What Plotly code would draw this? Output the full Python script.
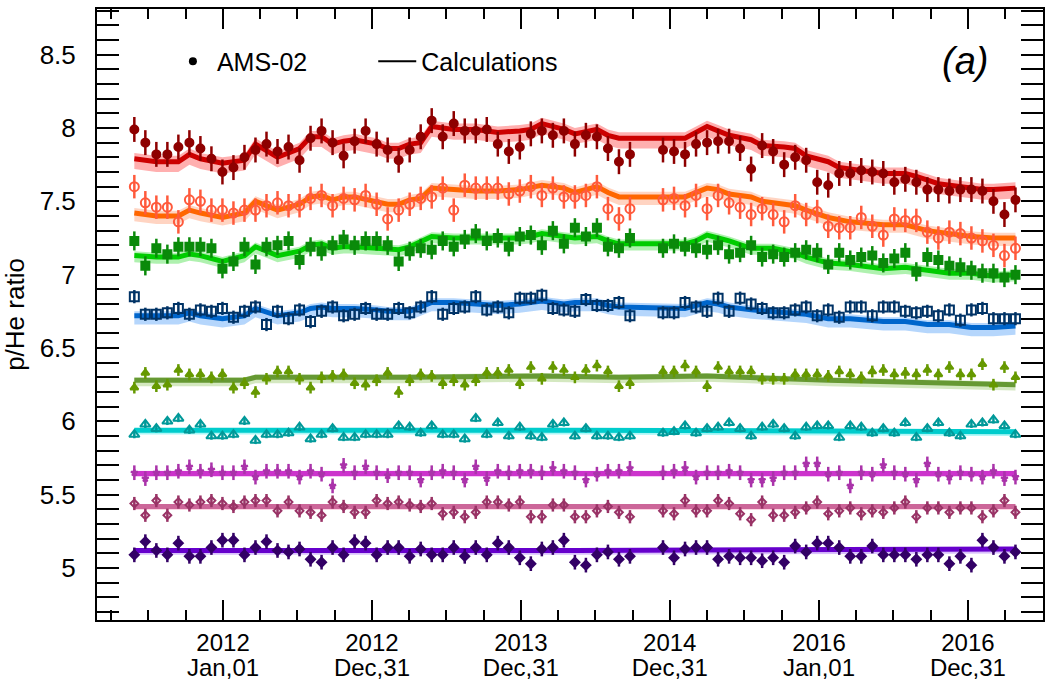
import pandas as pd
import plotly.graph_objects as go

# Bartels rotations with data (2472 and 2473 missing)
BARTELS = list(range(2426, 2472)) + list(range(2474, 2507))

RED = [7.99, 7.90, 7.82, 7.82, 7.87, 7.90, 7.86, 7.79, 7.70, 7.73, 7.80, 7.85, 7.89, 7.84, 7.87, 7.78,
       7.93, 7.98, 7.90, 7.81, 7.91, 7.98, 7.89, 7.85, 7.78, 7.85, 7.94, 8.05, 7.94, 8.03, 7.98, 7.98,
       7.99, 7.89, 7.84, 7.87, 7.96, 7.98, 7.95, 7.98, 7.89, 7.95, 7.94, 7.86, 7.77, 7.82,
       7.85, 7.84, 7.82, 7.89, 7.90, 7.91, 7.91, 7.86, 7.72, 7.88, 7.84, 7.75, 7.80, 7.78, 7.63, 7.61,
       7.69, 7.69, 7.71, 7.70, 7.69, 7.63, 7.65, 7.63, 7.58, 7.58, 7.57, 7.58, 7.58, 7.57, 7.50, 7.41, 7.51]
ORANGE = [7.60, 7.49, 7.46, 7.46, 7.36, 7.51, 7.50, 7.44, 7.44, 7.42, 7.44, 7.44, 7.47, 7.49, 7.47, 7.47,
          7.52, 7.54, 7.47, 7.52, 7.51, 7.54, 7.48, 7.38, 7.44, 7.48, 7.52, 7.53, 7.59, 7.44, 7.61, 7.59,
          7.59, 7.59, 7.55, 7.57, 7.60, 7.54, 7.59, 7.53, 7.53, 7.54, 7.60, 7.45, 7.38, 7.45,
          7.51, 7.52, 7.47, 7.54, 7.45, 7.54, 7.49, 7.46, 7.41, 7.45, 7.41, 7.36, 7.47, 7.41, 7.43, 7.33,
          7.32, 7.32, 7.39, 7.33, 7.27, 7.38, 7.37, 7.37, 7.29, 7.25, 7.29, 7.28, 7.25, 7.23, 7.20, 7.13, 7.18]
GREEN = [7.23, 7.06, 7.18, 7.14, 7.19, 7.19, 7.19, 7.18, 7.04, 7.09, 7.19, 7.07, 7.19, 7.20, 7.23, 7.10,
         7.19, 7.16, 7.20, 7.24, 7.20, 7.23, 7.23, 7.20, 7.09, 7.16, 7.18, 7.17, 7.23, 7.19, 7.24, 7.28,
         7.23, 7.25, 7.19, 7.26, 7.27, 7.20, 7.30, 7.21, 7.32, 7.26, 7.32, 7.19, 7.18, 7.25,
         7.18, 7.21, 7.19, 7.18, 7.17, 7.20, 7.14, 7.15, 7.20, 7.12, 7.14, 7.12, 7.15, 7.17, 7.15, 7.07,
         7.15, 7.10, 7.12, 7.13, 7.08, 7.11, 7.15, 7.02, 7.12, 7.10, 7.06, 7.05, 7.03, 7.01, 7.01, 6.98, 7.00]
BLUE = [6.85, 6.73, 6.73, 6.74, 6.77, 6.73, 6.76, 6.75, 6.77, 6.71, 6.75, 6.78, 6.66, 6.75, 6.70, 6.76,
        6.68, 6.75, 6.78, 6.72, 6.73, 6.77, 6.73, 6.73, 6.77, 6.74, 6.78, 6.85, 6.73, 6.77, 6.78, 6.85,
        6.76, 6.78, 6.74, 6.84, 6.84, 6.86, 6.77, 6.76, 6.75, 6.83, 6.79, 6.79, 6.81, 6.72,
        6.74, 6.74, 6.81, 6.78, 6.75, 6.84, 6.75, 6.84, 6.80, 6.77, 6.74, 6.74, 6.76, 6.78, 6.72, 6.76,
        6.71, 6.78, 6.78, 6.72, 6.78, 6.78, 6.75, 6.74, 6.75, 6.72, 6.76, 6.69, 6.76, 6.77, 6.70, 6.70, 6.70]
OLIVE = [6.23, 6.33, 6.24, 6.25, 6.35, 6.32, 6.32, 6.30, 6.32, 6.23, 6.26, 6.20, 6.29, 6.34, 6.34, 6.29,
         6.23, 6.30, 6.31, 6.32, 6.26, 6.25, 6.28, 6.33, 6.20, 6.28, 6.32, 6.31, 6.26, 6.28, 6.25, 6.28,
         6.33, 6.33, 6.35, 6.26, 6.37, 6.29, 6.37, 6.35, 6.30, 6.35, 6.38, 6.34, 6.24, 6.26,
         6.34, 6.34, 6.38, 6.34, 6.24, 6.37, 6.34, 6.34, 6.34, 6.29, 6.29, 6.29, 6.32, 6.32, 6.32, 6.31,
         6.34, 6.32, 6.30, 6.34, 6.35, 6.32, 6.33, 6.32, 6.35, 6.32, 6.37, 6.32, 6.32, 6.39, 6.25, 6.37, 6.30]
TEAL = [5.91, 5.98, 5.95, 6.00, 6.02, 5.94, 5.98, 5.90, 5.90, 5.91, 6.00, 5.87, 5.91, 5.91, 5.92, 5.96,
        5.88, 5.91, 5.95, 5.89, 5.89, 5.91, 5.91, 5.91, 5.97, 5.96, 5.92, 5.97, 5.91, 5.91, 5.88, 6.02,
        5.91, 5.99, 5.90, 5.96, 5.90, 5.89, 5.98, 5.99, 5.90, 5.95, 5.90, 5.90, 5.89, 5.90,
        5.92, 5.93, 5.97, 5.92, 5.95, 5.96, 5.99, 5.95, 5.90, 5.96, 5.98, 5.95, 5.90, 5.96, 5.97, 5.97,
        5.89, 5.97, 5.96, 5.92, 5.95, 5.92, 5.99, 5.89, 5.95, 5.99, 5.92, 5.90, 5.98, 5.99, 6.01, 5.97, 5.91]
MAGENTA = [5.65, 5.61, 5.65, 5.65, 5.66, 5.69, 5.66, 5.67, 5.65, 5.65, 5.69, 5.62, 5.66, 5.66, 5.66, 5.62,
           5.66, 5.64, 5.56, 5.70, 5.65, 5.69, 5.65, 5.63, 5.65, 5.65, 5.60, 5.65, 5.66, 5.65, 5.60, 5.69,
           5.61, 5.66, 5.65, 5.66, 5.66, 5.65, 5.68, 5.66, 5.65, 5.60, 5.64, 5.66, 5.66, 5.68,
           5.65, 5.66, 5.68, 5.62, 5.65, 5.65, 5.66, 5.65, 5.60, 5.60, 5.61, 5.65, 5.65, 5.71, 5.71, 5.64,
           5.65, 5.56, 5.65, 5.64, 5.70, 5.65, 5.64, 5.60, 5.71, 5.64, 5.62, 5.65, 5.64, 5.62, 5.66, 5.61, 5.62]
ROSE = [5.44, 5.36, 5.46, 5.36, 5.45, 5.43, 5.45, 5.46, 5.44, 5.42, 5.45, 5.46, 5.46, 5.39, 5.45, 5.39,
        5.38, 5.36, 5.45, 5.42, 5.38, 5.38, 5.46, 5.44, 5.45, 5.43, 5.42, 5.44, 5.37, 5.38, 5.35, 5.38,
        5.45, 5.45, 5.43, 5.45, 5.35, 5.35, 5.43, 5.43, 5.35, 5.35, 5.39, 5.42, 5.38, 5.35,
        5.39, 5.37, 5.46, 5.39, 5.39, 5.46, 5.44, 5.37, 5.33, 5.45, 5.36, 5.36, 5.38, 5.41, 5.45, 5.37,
        5.39, 5.41, 5.37, 5.39, 5.38, 5.41, 5.45, 5.35, 5.41, 5.41, 5.38, 5.41, 5.41, 5.35, 5.39, 5.46, 5.38]
PURPLE = [5.09, 5.18, 5.12, 5.09, 5.17, 5.08, 5.08, 5.14, 5.19, 5.19, 5.09, 5.14, 5.18, 5.12, 5.11, 5.13,
          5.06, 5.04, 5.14, 5.09, 5.18, 5.17, 5.09, 5.14, 5.14, 5.08, 5.13, 5.09, 5.09, 5.14, 5.08, 5.14,
          5.09, 5.17, 5.14, 5.07, 5.03, 5.13, 5.14, 5.19, 5.04, 5.02, 5.09, 5.11, 5.06, 5.08,
          5.14, 5.07, 5.13, 5.14, 5.14, 5.06, 5.08, 5.07, 5.07, 5.05, 5.07, 5.04, 5.15, 5.11, 5.17, 5.17,
          5.14, 5.08, 5.08, 5.15, 5.09, 5.09, 5.09, 5.06, 5.09, 5.09, 5.03, 5.08, 5.02, 5.19, 5.14, 5.08, 5.11]

# calculation curves: (Bartels rotation knots, values)
RED_CALC_BR = [2426, 2428, 2430, 2431, 2432, 2434, 2436, 2437, 2439, 2441, 2442, 2443, 2444, 2445, 2446,
               2448, 2449, 2450, 2451, 2452, 2453, 2455, 2457, 2459, 2461, 2462, 2463, 2465, 2466, 2468,
               2469, 2470, 2476, 2477, 2478, 2479, 2480, 2482, 2483, 2485, 2486, 2487, 2489, 2490, 2492,
               2494, 2496, 2497, 2499, 2501, 2503, 2504, 2506]
RED_CALC = [7.79, 7.77, 7.77, 7.82, 7.79, 7.76, 7.78, 7.89, 7.80, 7.86, 7.94, 7.94, 7.89, 7.91, 7.92,
            7.89, 7.86, 7.86, 7.89, 7.90, 8.01, 7.99, 7.99, 7.97, 7.98, 7.99, 8.03, 7.99, 7.96, 7.99,
            7.95, 7.93, 7.93, 7.97, 8.01, 7.98, 7.95, 7.92, 7.88, 7.87, 7.86, 7.81, 7.77, 7.73, 7.71,
            7.69, 7.69, 7.67, 7.62, 7.60, 7.58, 7.58, 7.59]
ORANGE_CALC_BR = [2426, 2428, 2430, 2431, 2432, 2434, 2436, 2437, 2439, 2441, 2442, 2443, 2444, 2445, 2446,
                  2448, 2449, 2450, 2451, 2452, 2453, 2455, 2457, 2459, 2461, 2463, 2465, 2466, 2468, 2469,
                  2470, 2476, 2477, 2478, 2479, 2480, 2482, 2483, 2486, 2487, 2489, 2491, 2494, 2496, 2498,
                  2500, 2502, 2504, 2506]
ORANGE_CALC = [7.42, 7.40, 7.40, 7.44, 7.42, 7.39, 7.42, 7.50, 7.44, 7.48, 7.53, 7.54, 7.51, 7.53, 7.53,
               7.50, 7.48, 7.48, 7.51, 7.52, 7.59, 7.58, 7.57, 7.57, 7.58, 7.61, 7.59, 7.56, 7.60, 7.56,
               7.53, 7.53, 7.56, 7.59, 7.58, 7.55, 7.53, 7.50, 7.47, 7.44, 7.39, 7.36, 7.34, 7.34, 7.30,
               7.28, 7.26, 7.25, 7.25]
GREEN_CALC_BR = [2426, 2428, 2430, 2431, 2432, 2434, 2436, 2437, 2439, 2441, 2442, 2443, 2444, 2445, 2446,
                 2448, 2449, 2450, 2451, 2453, 2455, 2459, 2461, 2462, 2463, 2465, 2466, 2468, 2469, 2470,
                 2476, 2477, 2478, 2479, 2480, 2482, 2484, 2486, 2487, 2489, 2491, 2494, 2496, 2498, 2500,
                 2502, 2504, 2506]
GREEN_CALC = [7.13, 7.12, 7.12, 7.14, 7.13, 7.09, 7.13, 7.19, 7.13, 7.16, 7.20, 7.21, 7.18, 7.19, 7.19,
              7.18, 7.17, 7.17, 7.19, 7.26, 7.25, 7.25, 7.25, 7.26, 7.28, 7.26, 7.25, 7.26, 7.23, 7.21,
              7.21, 7.23, 7.27, 7.25, 7.23, 7.18, 7.18, 7.15, 7.12, 7.08, 7.07, 7.04, 7.05, 7.03, 7.01,
              7.01, 6.99, 7.00]
BLUE_CALC_BR = [2426, 2428, 2430, 2431, 2432, 2434, 2436, 2437, 2439, 2441, 2442, 2443, 2444, 2445, 2446,
                2448, 2449, 2450, 2451, 2453, 2455, 2459, 2461, 2463, 2465, 2466, 2468, 2469, 2470, 2476,
                2477, 2478, 2479, 2480, 2482, 2484, 2486, 2487, 2489, 2491, 2494, 2496, 2498, 2500, 2502,
                2504, 2506]
BLUE_CALC = [6.72, 6.72, 6.72, 6.74, 6.72, 6.70, 6.72, 6.77, 6.72, 6.74, 6.77, 6.78, 6.77, 6.77, 6.77,
             6.76, 6.75, 6.75, 6.75, 6.81, 6.81, 6.79, 6.80, 6.82, 6.80, 6.81, 6.81, 6.79, 6.78, 6.77,
             6.79, 6.81, 6.80, 6.78, 6.76, 6.75, 6.74, 6.73, 6.70, 6.70, 6.68, 6.68, 6.66, 6.66, 6.64,
             6.64, 6.65]
OLIVE_CALC_BR = [2426, 2436, 2437, 2442, 2451, 2463, 2470, 2478, 2489, 2506]
OLIVE_CALC = [6.28, 6.28, 6.30, 6.30, 6.30, 6.31, 6.30, 6.31, 6.28, 6.25]
TEAL_CALC_BR = [2426, 2466, 2506]
TEAL_CALC = [5.94, 5.94, 5.93]
MAGENTA_CALC_BR = [2426, 2466, 2506]
MAGENTA_CALC = [5.645, 5.645, 5.645]
ROSE_CALC_BR = [2426, 2466, 2506]
ROSE_CALC = [5.42, 5.42, 5.42]
PURPLE_CALC_BR = [2426, 2466, 2506]
PURPLE_CALC = [5.12, 5.12, 5.13]

# per-series errors (data) and uncertainty band extents below / above the calculations
ERRORS = [0.085, 0.08, 0.065, 0.045, 0.04, 0.025, 0.05, 0.045, 0.05]
BAND_LO = [0.07, 0.055, 0.045, 0.06, 0.04, 0.03, 0.025, 0.025, 0.03]
BAND_HI = [0.04, 0.035, 0.03, 0.03, 0.02, 0.015, 0.018, 0.012, 0.012]

X_TICKS = ["2012-01-01", "2012-12-31", "2013-12-31", "2014-12-31", "2016-01-01", "2016-12-31"]
X_TICK_YEAR = ["2012", "2012", "2013", "2014", "2016", "2016"]
X_TICK_DAY = ["Jan,01", "Dec,31", "Dec,31", "Dec,31", "Jan,01", "Dec,31"]
Y_TICKS = [5, 5.5, 6, 6.5, 7, 7.5, 8, 8.5]
Y_TICK_TEXT = ["5", "5.5", "6", "6.5", "7", "7.5", "8", "8.5"]
X_RANGE = ["2011-02-26", "2017-07-03"]


def br_date(br):
    # mid-point of a Bartels rotation (rotation 2426 starts 2011-05-15)
    return pd.Timestamp("2011-05-15") + pd.Timedelta(days=27 * (br - 2426) + 13.5)


SERIES = [
    (RED, RED_CALC_BR, RED_CALC, "circle", 8, "#8e0000", "#cc0000", "rgba(255,110,110,0.55)"),
    (ORANGE, ORANGE_CALC_BR, ORANGE_CALC, "circle-open", 9, "#ff5a3c", "#ff6600", "rgba(255,160,120,0.45)"),
    (GREEN, GREEN_CALC_BR, GREEN_CALC, "square", 8, "#0a8a0a", "#00cc00", "rgba(110,230,110,0.55)"),
    (BLUE, BLUE_CALC_BR, BLUE_CALC, "square-open", 9, "#003366", "#0066cc", "rgba(120,180,250,0.55)"),
    (OLIVE, OLIVE_CALC_BR, OLIVE_CALC, "triangle-up", 7, "#669900", "#669933", "rgba(170,210,130,0.5)"),
    (TEAL, TEAL_CALC_BR, TEAL_CALC, "triangle-up-open", 9, "#009999", "#00cccc", "rgba(90,240,240,0.5)"),
    (MAGENTA, MAGENTA_CALC_BR, MAGENTA_CALC, "star", 5, "#aa33aa", "#cc33cc", "rgba(240,140,240,0.5)"),
    (ROSE, ROSE_CALC_BR, ROSE_CALC, "diamond-open", 6, "#993366", "#cc6699", "rgba(250,170,200,0.5)"),
    (PURPLE, PURPLE_CALC_BR, PURPLE_CALC, "diamond", 7, "#330066", "#6600cc", "rgba(180,130,250,0.5)"),
]

x_data = [br_date(b) for b in BARTELS]

fig = go.Figure()
for k, (vals, cbr, cval, sym, msz, mcol, lcol, bcol) in enumerate(SERIES):
    cx = [br_date(b) for b in cbr]
    fig.add_trace(go.Scatter(x=cx, y=[v - BAND_LO[k] for v in cval], mode="lines", line=dict(width=0),
                             showlegend=False, hoverinfo="skip"))
    fig.add_trace(go.Scatter(x=cx, y=[v + BAND_HI[k] for v in cval], mode="lines", line=dict(width=0),
                             fill="tonexty", fillcolor=bcol, showlegend=False, hoverinfo="skip"))
    fig.add_trace(go.Scatter(x=cx, y=cval, mode="lines", line=dict(color=lcol, width=5),
                             showlegend=False))
for k, (vals, cbr, cval, sym, msz, mcol, lcol, bcol) in enumerate(SERIES):
    fig.add_trace(go.Scatter(
        x=x_data, y=vals, mode="markers",
        marker=dict(symbol=sym, size=msz, color=mcol, line=dict(color=mcol, width=2)),
        error_y=dict(type="constant", value=ERRORS[k], color=mcol, thickness=2.5, width=0),
        showlegend=False))

# invisible trace so that the second (date-label) x axis is drawn
fig.add_trace(go.Scatter(x=[None], y=[None], xaxis="x2", yaxis="y", showlegend=False,
                         hoverinfo="skip"))

# legend entries
fig.add_trace(go.Scatter(x=[None], y=[None], mode="markers", name="AMS-02",
                         marker=dict(color="black", size=8), legend="legend"))
fig.add_trace(go.Scatter(x=[None], y=[None], mode="lines", name="Calculations",
                         line=dict(color="black", width=2), legend="legend2"))

FONT = "Liberation Sans, Arial, Helvetica, sans-serif"
fig.update_layout(
    width=1050, height=687,
    margin=dict(l=97, r=7, t=9, b=67),
    paper_bgcolor="white", plot_bgcolor="white",
    font=dict(family=FONT, size=24, color="black"),
    showlegend=True,
    legend=dict(x=0.076, y=0.914, xanchor="left", yanchor="middle", bgcolor="rgba(0,0,0,0)",
                font=dict(size=25), itemwidth=38),
    legend2=dict(x=0.292, y=0.914, xanchor="left", yanchor="middle", bgcolor="rgba(0,0,0,0)",
                 font=dict(size=25), itemwidth=38),
    xaxis=dict(
        type="date", range=X_RANGE, automargin=False,
        tickmode="array", tickvals=X_TICKS, ticktext=X_TICK_YEAR,
        ticks="inside", ticklen=20, tickwidth=2, tickcolor="black",
        showline=True, linewidth=2, linecolor="black", mirror="allticks",
        showgrid=False, zeroline=False, ticklabelstandoff=0,
        minor=dict(ticks="inside", ticklen=10, tickwidth=2, tickcolor="black",
                   dtick="M3", tick0="2012-01-01", showgrid=False),
        tickfont=dict(size=24),
    ),
    xaxis2=dict(
        type="date", range=X_RANGE, overlaying="x", anchor="y", side="bottom", automargin=False,
        tickmode="array", tickvals=X_TICKS, ticktext=X_TICK_DAY,
        ticks="", showline=False, showgrid=False, zeroline=False, ticklabelstandoff=31,
        tickfont=dict(size=24),
    ),
    yaxis=dict(
        range=[4.646, 8.811], automargin=False,
        tickmode="array", tickvals=Y_TICKS, ticktext=Y_TICK_TEXT,
        ticks="inside", ticklen=22, tickwidth=2, tickcolor="black",
        showline=True, linewidth=2, linecolor="black", mirror="allticks",
        showgrid=False, zeroline=False, ticklabelstandoff=14,
        minor=dict(ticks="inside", ticklen=12, tickwidth=2, tickcolor="black",
                   dtick=0.1, tick0=5, showgrid=False),
        title=dict(text="p/He ratio", font=dict(size=26), standoff=12),
        tickfont=dict(size=26),
    ),
    annotations=[dict(text="<i>(a)</i>", x=0.918, y=0.915, xref="paper", yref="paper",
                      xanchor="center", yanchor="middle", showarrow=False,
                      font=dict(size=38, family=FONT))],
)

fig.write_html("out.html")
